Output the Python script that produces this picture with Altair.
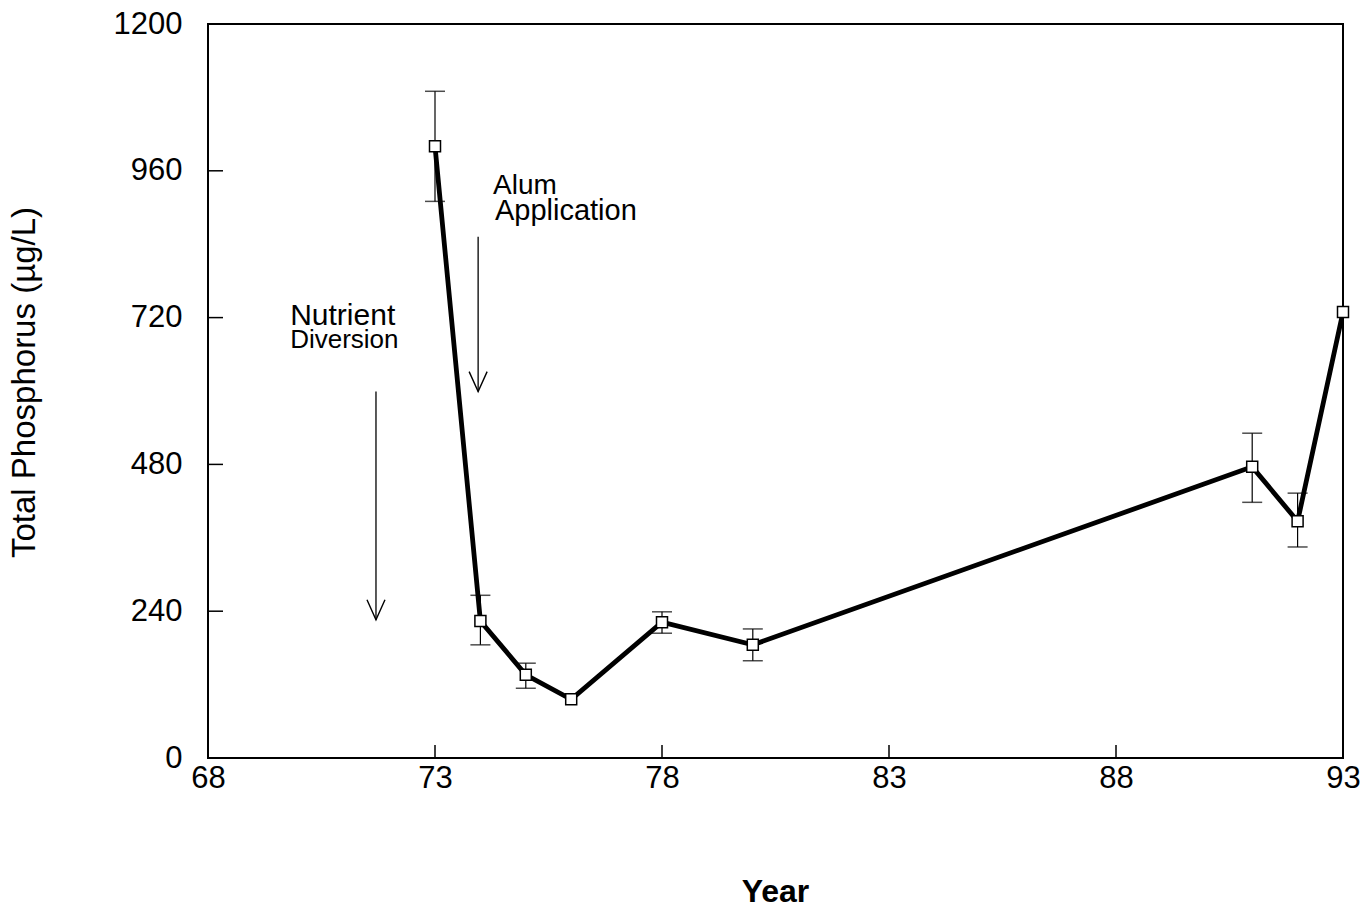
import altair as alt
import pandas as pd

# Annual mean total phosphorus with error ranges
years = [73, 74, 75, 76, 78, 80, 91, 92, 93]
tp = [1000, 224, 136, 96, 222, 185, 476, 387, 729]
tp_low = [910, 185, 114, None, 204, 159, 418, 345, None]
tp_high = [1090, 266, 155, None, 239, 211, 531, 433, None]

x_ticks = [68, 73, 78, 83, 88, 93]
y_ticks = [0, 240, 480, 720, 960, 1200]

# Event arrows: year, start value, tip value
arrow_year = [71.7, 73.95]
arrow_top = [599, 852]
arrow_tip = [226, 599]

# Annotation labels
label_text = ["Nutrient", "Diversion", "Alum", "Application"]
label_x = [69.81, 69.81, 74.28, 74.32]
label_y = [708, 670, 922, 879]
label_size = [30, 26, 28, 29]

FONT = "Liberation Sans"

df = pd.DataFrame({"year": years, "tp": tp, "low": tp_low, "high": tp_high})
err = df.dropna()
arrows = pd.DataFrame({"year": arrow_year, "top": arrow_top, "tip": arrow_tip})
labels = pd.DataFrame({"text": label_text, "x": label_x, "y": label_y, "size": label_size})
inner_y = pd.DataFrame({"v": y_ticks[1:-1]})
inner_x = pd.DataFrame({"v": x_ticks[1:-1]})

xs = alt.Scale(domain=[68, 93], nice=False, zero=False)
ys = alt.Scale(domain=[0, 1200], nice=False, zero=True)

x_axis = alt.Axis(
    values=x_ticks, format="d", title="Year", ticks=False, domain=False, grid=False,
    labelFont=FONT, labelFontSize=31, labelColor="black", labelPadding=5,
    labelFlush=False,
    titleFont=FONT, titleFontSize=32, titleFontWeight="bold", titleColor="black",
    titleX=567, titleY=133, titleBaseline="middle", titleAlign="center",
)
y_axis = alt.Axis(
    values=y_ticks, format="d", title="Total Phosphorus (µg/L)", ticks=False,
    domain=False, grid=False, labelFont=FONT, labelFontSize=31, labelColor="black",
    labelPadding=26, labelFlush=False,
    titleFont=FONT, titleFontSize=33, titleFontWeight="normal", titleColor="black",
    titleAngle=270, titleX=-184, titleY=358, titleBaseline="middle",
    titleAlign="center",
)


def X(field):
    return alt.X(field, type="quantitative", scale=xs, axis=x_axis)


def Y(field):
    return alt.Y(field, type="quantitative", scale=ys, axis=y_axis)


line = alt.Chart(df).mark_line(color="black", strokeWidth=4.8).encode(
    x=X("year"), y=Y("tp"),
)

points = alt.Chart(df).mark_point(
    shape="square", size=121, filled=True, fill="white", stroke="black",
    strokeWidth=1.5, opacity=1,
).encode(x=X("year"), y=Y("tp"))

err_rule = alt.Chart(err).mark_rule(color="black", strokeWidth=1.2).encode(
    x=X("year"), y=Y("low"), y2="high:Q",
)

cap_low = alt.Chart(err).mark_tick(
    orient="horizontal", color="black", size=20, thickness=1.5
).encode(x=X("year"), y=Y("low"))
cap_high = alt.Chart(err).mark_tick(
    orient="horizontal", color="black", size=20, thickness=1.5
).encode(x=X("year"), y=Y("high"))

# Inward-pointing axis ticks
ytick_marks = alt.Chart(inner_y).mark_rule(color="black", strokeWidth=1.5).encode(
    y=Y("v"), x=alt.value(0), x2=alt.value(15),
)
xtick_marks = alt.Chart(inner_x).mark_rule(color="black", strokeWidth=1.5).encode(
    x=X("v"), y=alt.value(734), y2=alt.value(721),
)

shaft = alt.Chart(arrows).mark_rule(color="black", strokeWidth=1.3).encode(
    x=X("year"), y=Y("top"), y2="tip:Q",
)
head = alt.Chart(arrows).mark_point(
    shape="M -0.45 -1 L 0 0 L 0.45 -1", size=1600, filled=False,
    stroke="black", strokeWidth=1.4, opacity=1,
).encode(x=X("year"), y=Y("tip"))

text = alt.Chart(labels).mark_text(
    align="left", baseline="alphabetic", font=FONT, color="black"
).encode(
    x=X("x"), y=Y("y"),
    text="text:N",
    size=alt.Size("size:Q", scale=None, legend=None),
)

chart = alt.layer(
    line, ytick_marks, xtick_marks, err_rule, cap_low, cap_high, points,
    shaft, head, text,
).properties(
    width=1135, height=734,
    padding={"left": 208, "top": 24, "right": 27, "bottom": 153},
    autosize="none", background="white",
).configure_view(stroke="black", strokeWidth=2)

chart.save("out.html", embed_options={"renderer": "svg", "actions": False})
